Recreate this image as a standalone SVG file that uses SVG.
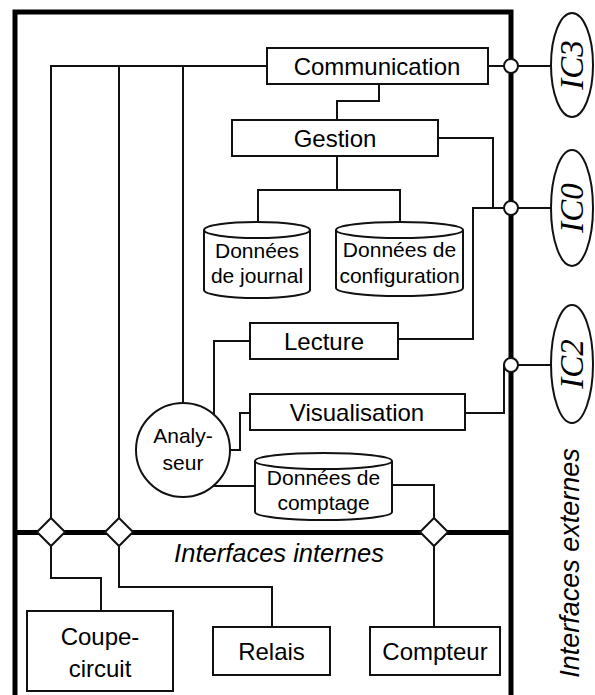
<svg xmlns="http://www.w3.org/2000/svg" width="595" height="695" viewBox="0 0 595 695">
<style>
.box{fill:#fff;stroke:#111;stroke-width:2}
.ln{fill:none;stroke:#111;stroke-width:2}
.thick{fill:none;stroke:#000;stroke-width:5}
.t{font-family:"Liberation Sans",Arial,sans-serif;font-size:24px;fill:#000;text-anchor:middle}
.s{font-family:"Liberation Sans",Arial,sans-serif;font-size:21px;fill:#000;text-anchor:middle}
.it{font-family:"Liberation Sans",Arial,sans-serif;font-style:italic;fill:#000;text-anchor:middle}
.ic{font-family:"Liberation Serif","Times New Roman",serif;font-style:italic;font-size:33px;fill:#000;text-anchor:middle}
</style>
<rect width="595" height="695" fill="#fff"/>
<g id="frame">
<path class="thick" d="M15,695 V12 H511 V695"/>
<path class="thick" d="M15,532.5 H511"/>
</g>
<g id="connectors">
<path class="ln" d="M267,66 H51 V518"/>
<path class="ln" d="M119,66 V518"/>
<path class="ln" d="M183,66 V403"/>
<path class="ln" d="M488,66 H551"/>
<path class="ln" d="M379,84 V101 H337 V120"/>
<path class="ln" d="M438,138 H493 V208 H551"/>
<path class="ln" d="M398,339 H473 V208 H493"/>
<path class="ln" d="M337,156 V190"/>
<path class="ln" d="M258,222 V190 H400 V222"/>
<path class="ln" d="M250,341 H214 V415"/>
<path class="ln" d="M250,413 H240 V450 H230"/>
<path class="ln" d="M465,413 H504 V365 H551"/>
<path class="ln" d="M213,486 H255"/>
<path class="ln" d="M392,485 H434 V518"/>
<path class="ln" d="M51,546 V578 H101 V611"/>
<path class="ln" d="M119,546 V587 H272 V627"/>
<path class="ln" d="M434,546 V627"/>
</g>
<g id="ports">
<circle class="box" cx="511" cy="66" r="7"/>
<circle class="box" cx="511" cy="208" r="7"/>
<circle class="box" cx="511" cy="365" r="7"/>
<polygon class="box" points="51,518 65,532 51,546 37,532"/>
<polygon class="box" points="119,518 133,532 119,546 105,532"/>
<polygon class="box" points="434,518 448,532 434,546 420,532"/>
</g>
<g id="communication">
<rect class="box" x="267" y="48" width="221" height="36"/>
<text class="t" x="377" y="74.5">Communication</text>
</g>
<g id="gestion">
<rect class="box" x="232" y="120" width="206" height="36"/>
<text class="t" x="335" y="146.5">Gestion</text>
</g>
<g id="journal">
<path class="box" d="M204,230 V290 A53,8 0 0 0 310,290 V230"/>
<ellipse class="box" cx="257" cy="230" rx="53" ry="8"/>
<text class="s" x="257" y="258">Données</text>
<text class="s" x="257" y="283">de journal</text>
</g>
<g id="configuration">
<path class="box" d="M336,230 V288 A63.5,8 0 0 0 463,288 V230"/>
<ellipse class="box" cx="399.5" cy="230" rx="63.5" ry="8"/>
<text class="s" x="399.5" y="257">Données de</text>
<text class="s" x="399.5" y="283">configuration</text>
</g>
<g id="lecture">
<rect class="box" x="250" y="323" width="148" height="36"/>
<text class="t" x="324" y="349.5">Lecture</text>
</g>
<g id="visualisation">
<rect class="box" x="250" y="394" width="215" height="36"/>
<text class="t" x="357" y="420.5">Visualisation</text>
</g>
<g id="analyseur">
<circle class="box" cx="183" cy="450" r="47"/>
<text class="s" x="183" y="443">Analy-</text>
<text class="s" x="183" y="470">seur</text>
</g>
<g id="comptage">
<path class="box" d="M255,461 V512 A68.5,8 0 0 0 392,512 V461"/>
<ellipse class="box" cx="323.5" cy="461" rx="68.5" ry="8"/>
<text class="s" x="323.5" y="485">Données de</text>
<text class="s" x="323.5" y="510">comptage</text>
</g>
<g id="coupe-circuit">
<rect class="box" x="27" y="611" width="146" height="80"/>
<text class="t" x="100" y="645">Coupe-</text>
<text class="t" x="100" y="677">circuit</text>
</g>
<g id="relais">
<rect class="box" x="213" y="627" width="117" height="48"/>
<text class="t" x="271.5" y="660">Relais</text>
</g>
<g id="compteur">
<rect class="box" x="370" y="627" width="130" height="48"/>
<text class="t" x="435" y="660">Compteur</text>
</g>
<g id="ic3">
<ellipse class="box" cx="572" cy="65" rx="21" ry="52"/>
<text class="ic" transform="translate(583,65) rotate(-90)">IC3</text>
</g>
<g id="ic0">
<ellipse class="box" cx="572" cy="208" rx="21" ry="58"/>
<text class="ic" transform="translate(583,208) rotate(-90)">IC0</text>
</g>
<g id="ic2">
<ellipse class="box" cx="572" cy="364" rx="21" ry="59"/>
<text class="ic" transform="translate(583,364) rotate(-90)">IC2</text>
</g>
<g id="labels">
<text class="it" font-size="25.5" x="279" y="562">Interfaces internes</text>
<text class="it" font-size="27" transform="translate(579,563) rotate(-90)">Interfaces externes</text>
</g>
</svg>
